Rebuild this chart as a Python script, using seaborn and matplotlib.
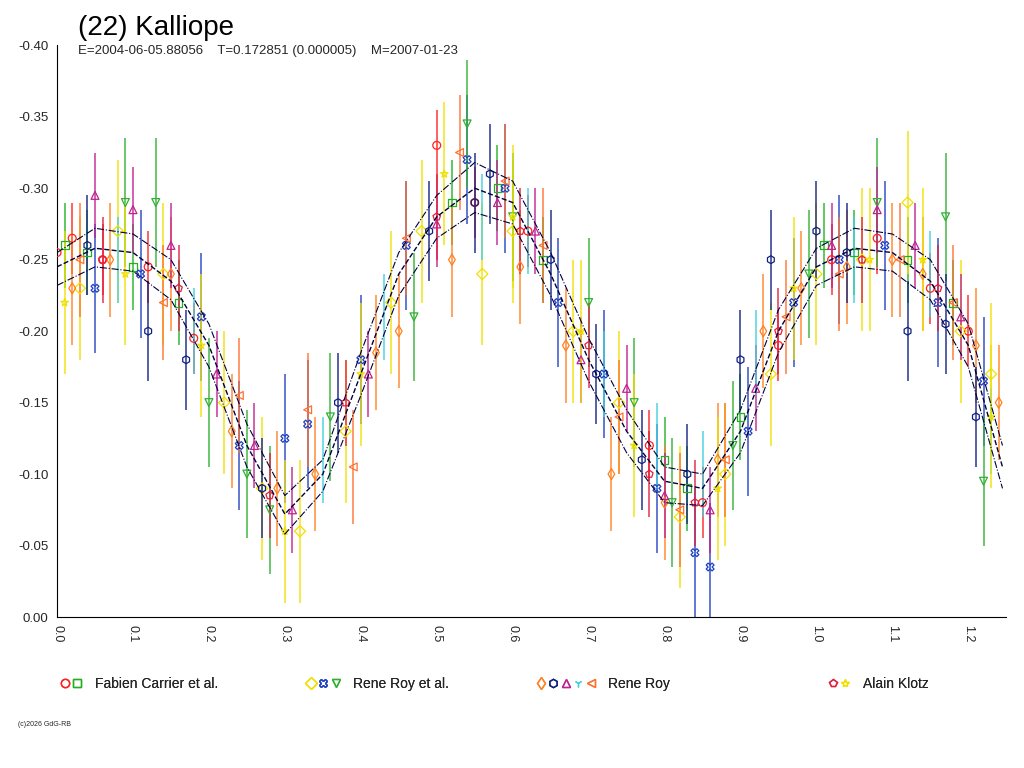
import matplotlib
matplotlib.use("Agg")
import matplotlib.pyplot as plt
import seaborn as sns
from matplotlib.lines import Line2D
from matplotlib.legend_handler import HandlerTuple

# --- DATA ---
sessions = [
    # (observer, color, marker, phases, mags, err)
    ("Fabien Carrier et al.", "#ff2020", "o",
     [0.0, 0.02, 0.06, 0.12, 0.18, 0.5, 0.55, 0.62, 0.78, 0.85, 0.95, 1.02, 1.08, 1.15, 1.2],
     [-0.255, -0.265, -0.25, -0.245, -0.195, -0.33, -0.29, -0.27, -0.12, -0.08, -0.19, -0.25, -0.265, -0.23, -0.2], 0.025),
    ("Fabien Carrier et al.", "#20b020", "s",
     [0.01, 0.04, 0.1, 0.16, 0.52, 0.58, 0.64, 0.8, 0.83, 0.9, 1.01, 1.05, 1.12, 1.18],
     [-0.26, -0.255, -0.245, -0.22, -0.29, -0.30, -0.25, -0.11, -0.09, -0.14, -0.26, -0.255, -0.25, -0.22], 0.03),
    ("Rene Roy et al.", "#f0e000", "D",
     [0.03, 0.08, 0.14, 0.22, 0.27, 0.32, 0.38, 0.44, 0.48, 0.56, 0.6, 0.68, 0.74, 0.82, 0.88, 0.94, 1.0, 1.06, 1.12, 1.19, 1.23],
     [-0.23, -0.27, -0.24, -0.15, -0.09, -0.06, -0.13, -0.22, -0.27, -0.24, -0.27, -0.2, -0.15, -0.07, -0.10, -0.17, -0.24, -0.25, -0.29, -0.2, -0.17], 0.05),
    ("Rene Roy et al.", "#2040c0", "X",
     [0.05, 0.11, 0.19, 0.24, 0.3, 0.33, 0.4, 0.46, 0.54, 0.59, 0.66, 0.72, 0.79, 0.84, 0.86, 0.91, 0.97, 1.03, 1.09, 1.16, 1.22],
     [-0.23, -0.24, -0.21, -0.12, -0.125, -0.135, -0.18, -0.26, -0.32, -0.30, -0.22, -0.17, -0.09, -0.045, -0.035, -0.13, -0.22, -0.25, -0.26, -0.22, -0.165], 0.045),
    ("Rene Roy et al.", "#30b030", "v",
     [0.09, 0.13, 0.2, 0.25, 0.28, 0.36, 0.47, 0.54, 0.6, 0.7, 0.76, 0.81, 0.89, 0.99, 1.08, 1.17, 1.22],
     [-0.29, -0.29, -0.15, -0.10, -0.075, -0.14, -0.21, -0.345, -0.28, -0.22, -0.15, -0.08, -0.12, -0.24, -0.29, -0.28, -0.095], 0.045),
    ("Rene Roy", "#ff8020", "d",
     [0.02, 0.07, 0.15, 0.23, 0.29, 0.34, 0.42, 0.45, 0.52, 0.61, 0.67, 0.73, 0.8, 0.87, 0.93, 0.98, 1.04, 1.1, 1.14, 1.21, 1.24],
     [-0.23, -0.25, -0.24, -0.13, -0.09, -0.10, -0.185, -0.20, -0.25, -0.245, -0.19, -0.10, -0.08, -0.11, -0.2, -0.23, -0.245, -0.25, -0.24, -0.19, -0.15], 0.04),
    ("Rene Roy", "#102080", "h",
     [0.04, 0.12, 0.17, 0.27, 0.37, 0.49, 0.55, 0.57, 0.65, 0.71, 0.77, 0.83, 0.9, 0.94, 1.0, 1.04, 1.12, 1.17, 1.21],
     [-0.26, -0.2, -0.18, -0.09, -0.15, -0.27, -0.29, -0.31, -0.25, -0.17, -0.11, -0.10, -0.18, -0.25, -0.27, -0.255, -0.2, -0.205, -0.14], 0.035),
    ("Rene Roy", "#c02090", "^",
     [0.05, 0.1, 0.15, 0.21, 0.26, 0.31, 0.41, 0.5, 0.58, 0.63, 0.69, 0.75, 0.8, 0.86, 0.92, 1.02, 1.08, 1.13, 1.19],
     [-0.295, -0.285, -0.26, -0.17, -0.12, -0.075, -0.17, -0.275, -0.29, -0.27, -0.18, -0.16, -0.085, -0.075, -0.16, -0.26, -0.285, -0.26, -0.21], 0.03),
    ("Rene Roy", "#40d0e0", "1",
     [0.08, 0.18, 0.35, 0.43, 0.56, 0.62, 0.72, 0.79, 0.85, 0.92, 1.05, 1.15, 1.23],
     [-0.25, -0.20, -0.11, -0.21, -0.28, -0.27, -0.17, -0.12, -0.10, -0.185, -0.25, -0.24, -0.13], 0.03),
    ("Rene Roy", "#ff7030", "<",
     [0.03, 0.14, 0.24, 0.33, 0.39, 0.46, 0.53, 0.59, 0.64, 0.74, 0.82, 0.88, 0.96, 1.03, 1.11, 1.18],
     [-0.25, -0.22, -0.155, -0.145, -0.105, -0.265, -0.325, -0.305, -0.26, -0.14, -0.075, -0.11, -0.21, -0.24, -0.25, -0.22], 0.04),
    ("Alain Klotz", "#e02040", "p",
     [0.06, 0.16, 0.28, 0.38, 0.5, 0.61, 0.7, 0.78, 0.84, 0.95, 1.06, 1.16],
     [-0.25, -0.23, -0.085, -0.15, -0.28, -0.27, -0.19, -0.1, -0.08, -0.2, -0.25, -0.23], 0.03),
    ("Alain Klotz", "#f0e000", "*",
     [0.01, 0.09, 0.19, 0.3, 0.4, 0.51, 0.6, 0.69, 0.76, 0.87, 0.97, 1.07, 1.14, 1.23],
     [-0.22, -0.24, -0.19, -0.06, -0.17, -0.31, -0.28, -0.2, -0.12, -0.09, -0.23, -0.25, -0.25, -0.14], 0.05),
]

fit_phase = [0.0, 0.05, 0.1, 0.15, 0.2, 0.25, 0.3, 0.35, 0.4, 0.45, 0.5, 0.55, 0.6, 0.65,
             0.7, 0.75, 0.8, 0.85, 0.9, 0.95, 1.0, 1.05, 1.1, 1.15, 1.2, 1.245]
fit_main = [-0.245, -0.258, -0.255, -0.235, -0.19, -0.12, -0.072, -0.10, -0.17, -0.24, -0.28, -0.30,
            -0.29, -0.24, -0.18, -0.13, -0.095, -0.09, -0.13, -0.20, -0.245, -0.258, -0.255, -0.235, -0.19, -0.105]
fit_upper = [-0.255, -0.272, -0.268, -0.25, -0.205, -0.135, -0.085, -0.11, -0.185, -0.255, -0.295, -0.318,
             -0.305, -0.255, -0.195, -0.145, -0.105, -0.10, -0.145, -0.215, -0.258, -0.272, -0.268, -0.25, -0.205, -0.12]
fit_lower = [-0.232, -0.245, -0.242, -0.222, -0.175, -0.105, -0.058, -0.088, -0.155, -0.225, -0.265, -0.283,
             -0.275, -0.225, -0.165, -0.115, -0.08, -0.078, -0.115, -0.185, -0.232, -0.245, -0.242, -0.222, -0.175, -0.09]

observers = ["Fabien Carrier et al.", "Rene Roy et al.", "Rene Roy", "Alain Klotz"]
legend_x = [0.045, 0.285, 0.51, 0.795]

# --- FIGURE ---
sns.set_style("white")
plt.rcParams['font.family'] = ['Liberation Sans', 'DejaVu Sans']
fig = plt.figure(figsize=(10.24, 7.68), dpi=100)
ax = fig.add_axes([0.0557, 0.1966, 0.927, 0.7444])

for obs, col, mk, ph, mg, er in sessions:
    ax.errorbar(ph, mg, yerr=er, fmt="none", ecolor=col, elinewidth=1.1, alpha=0.9, zorder=2)
    sns.scatterplot(x=ph, y=mg, ax=ax, marker=mk, s=32, facecolors="none",
                    edgecolor=col, color=col, linewidth=0.9, zorder=3, legend=False)

ax.plot(fit_phase, fit_main, color="#000040", lw=1, ls="--", zorder=4)
ax.plot(fit_phase, fit_upper, color="#000040", lw=0.8, ls="-.", zorder=4)
ax.plot(fit_phase, fit_lower, color="#000040", lw=0.8, ls="-.", zorder=4)

ax.set_xlim(0, 1.25)
ax.set_ylim(0.0, -0.40)
ax.set_xticks([0.0, 0.1, 0.2, 0.3, 0.4, 0.5, 0.6, 0.7, 0.8, 0.9, 1.0, 1.1, 1.2])
ax.set_xticks([x / 100 for x in range(0, 125, 2)], minor=True)
ax.set_xticklabels([f"{t:.1f}" for t in ax.get_xticks()], rotation=270, fontsize=9)
ax.set_yticks([0.0, -0.05, -0.10, -0.15, -0.20, -0.25, -0.30, -0.35, -0.40])
ax.set_yticklabels([f"{t:.2f}" for t in ax.get_yticks()], fontsize=9.5)
ax.tick_params(axis="both", which="both", direction="out", length=4, color="black", pad=2)
ax.tick_params(axis="x", which="minor", length=2)
for s in ["top", "right"]:
    ax.spines[s].set_visible(False)
for s in ["left", "bottom"]:
    ax.spines[s].set_color("black")

fig.text(0.076, 0.955, "(22) Kalliope", fontsize=20, color="black")
fig.text(0.076, 0.93, "E=2004-06-05.88056    T=0.172851 (0.000005)    M=2007-01-23", fontsize=9.5)
fig.text(0.018, 0.055, "(c)2026 GdG-RB", fontsize=5)

for obs, lx in zip(observers, legend_x):
    h = tuple(Line2D([], [], ls="none", marker=mk, mfc="none", mec=col, ms=6)
              for o, col, mk, ph, mg, er in sessions if o == obs)
    leg = fig.legend([h], [obs], handler_map={tuple: HandlerTuple(ndivide=None, pad=0.0)},
                     loc="center left", bbox_to_anchor=(lx, 0.11), frameon=False,
                     handlelength=0.9 * len(h), handletextpad=0.8, fontsize=10)
    fig.add_artist(leg)

plt.savefig("out.png", dpi=100)
